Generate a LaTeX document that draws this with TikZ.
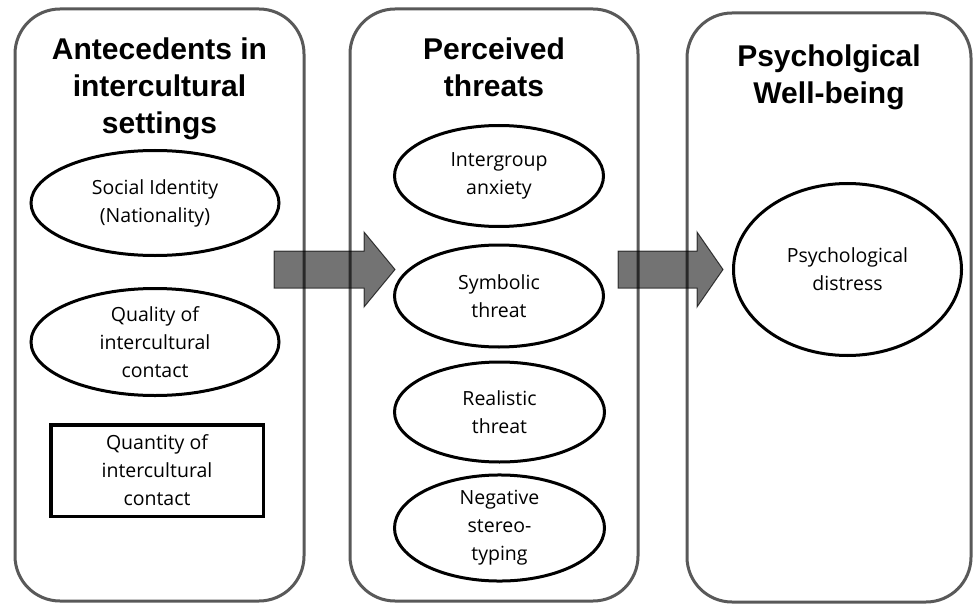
\documentclass[tikz,border=0pt]{standalone}
\usepackage{fontspec}
\setmainfont{Open Sans}
\newfontfamily\titlefont{Liberation Sans}
\usetikzlibrary{shapes.geometric}
\definecolor{panelgray}{HTML}{595959}
\begin{document}
\begin{tikzpicture}[x=1pt,y=-1pt,
  panel/.style={draw=panelgray,line width=3pt,rounded corners=45pt},
  titletext/.style={anchor=north,inner sep=0pt,align=center,
    font=\titlefont\bfseries\fontsize{30}{37}\selectfont},
  oval/.style={ellipse,draw=black,line width=3pt,inner sep=0pt,align=center,
    font=\fontsize{19.5}{28}\selectfont},
  boxed/.style={rectangle,draw=black,line width=3.5pt,inner sep=0pt,align=center,
    font=\fontsize{19.5}{28}\selectfont},
  blockarrow/.style={fill=black,fill opacity=0.55,draw=black,draw opacity=0.7,line width=1pt}
]
\useasboundingbox (0,0) rectangle (973,604);
% panels
\draw[panel] (15,9) rectangle (304,601);
\draw[panel] (350,9) rectangle (638,601);
\draw[panel] (687,13) rectangle (971,602);
% titles
\node[titletext] (t1) at (159.5,38) {Antecedents in\\intercultural\\settings};
\node[titletext] (t2) at (494,38) {Perceived\\threats};
\node[titletext] (t3) at (829,45) {Psycholgical\\Well-being};
% left column
\node[oval,minimum width=248,minimum height=105] (soc) at (155,203) {Social Identity\\(Nationality)};
\node[oval,minimum width=248,minimum height=107] (qual) at (155,342) {Quality of\\intercultural\\contact};
\node[boxed,minimum width=212.5,minimum height=91.5] (quan) at (157,470.5) {Quantity of\\intercultural\\contact};
% middle column
\node[oval,minimum width=209,minimum height=101] (anx) at (499,176) {Intergroup\\anxiety};
\node[oval,minimum width=209,minimum height=102] (sym) at (499,296) {Symbolic\\threat};
\node[oval,minimum width=210,minimum height=100] (real) at (499.5,412) {Realistic\\threat};
\node[oval,minimum width=210,minimum height=104] (neg) at (499.5,528) {Negative\\stereo-\\typing};
% right column
\node[oval,minimum width=228,minimum height=172] (dist) at (847.5,269.5) {Psychological\\distress};
% block arrows
\draw[blockarrow] (274,251) -- (364,251) -- (364,232) -- (395,269.5) -- (364,307) -- (364,288) -- (274,288) -- cycle;
\draw[blockarrow] (618,251) -- (697,251) -- (697,232) -- (723,269.5) -- (697,307) -- (697,288) -- (618,288) -- cycle;
\end{tikzpicture}
\end{document}
